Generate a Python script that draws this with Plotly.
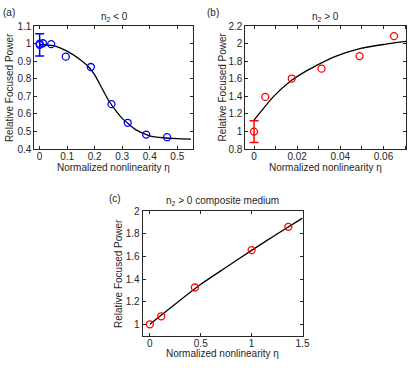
import plotly.graph_objects as go

W, H = 415, 368

# ---- panel (a): n2 < 0 ----
a_x = [0.0, 0.012, 0.042, 0.095, 0.186, 0.261, 0.320, 0.387, 0.463]
a_y = [1.0, 1.002, 0.997, 0.926, 0.867, 0.656, 0.550, 0.483, 0.468]
a_err_x = [0.0]
a_err_y = [0.993]
a_err = [0.063]
a_fit_x = [0, 0.05, 0.1, 0.15, 0.18, 0.2, 0.22, 0.25, 0.28, 0.3, 0.35, 0.4, 0.45, 0.5, 0.55]
a_fit_y = [0.995, 0.988, 0.957, 0.905, 0.864, 0.822, 0.765, 0.678, 0.612, 0.575, 0.51, 0.476, 0.465, 0.46, 0.457]

# ---- panel (b): n2 > 0 ----
b_x = [0.0052, 0.0175, 0.0313, 0.0489, 0.0649]
b_y = [1.394, 1.603, 1.715, 1.858, 2.085]
b_err_x = [0.0]
b_err_y = [1.0]
b_err = [0.123]
b_fit_x = [0, 0.0046, 0.0091, 0.0167, 0.0243, 0.0304, 0.0372, 0.0486, 0.06, 0.0706]
b_fit_y = [1.13, 1.27, 1.40, 1.57, 1.69, 1.77, 1.85, 1.94, 1.99, 2.025]

# ---- panel (c): n2 > 0 composite medium ----
c_x = [0.0, 0.112, 0.442, 1.0, 1.361]
c_y = [1.0, 1.071, 1.326, 1.657, 1.863]
c_fit_x = [0, 0.25, 0.5, 0.75, 1.0, 1.25, 1.5]
c_fit_y = [1.0, 1.18, 1.355, 1.505, 1.655, 1.80, 1.94]

BLUE = "#0000FF"
RED = "#FF0000"
INK = "#262626"
FONT = "Liberation Sans, Arial, sans-serif"
FS = 10


def px(x):
    return x / W


def py(y):
    return 1 - y / H


def fit_line(x, y, xa, ya):
    return go.Scatter(x=x, y=y, mode="lines", xaxis=xa, yaxis=ya,
                      line=dict(color="black", width=1.3, shape="spline", smoothing=0.5),
                      showlegend=False, hoverinfo="skip")


def points(x, y, color, xa, ya):
    return go.Scatter(x=x, y=y, mode="markers", xaxis=xa, yaxis=ya,
                      marker=dict(symbol="circle-open", size=7, color=color, line=dict(width=1.3)),
                      showlegend=False)


def err_point(x, y, e, color, xa, ya):
    return go.Scatter(x=x, y=y, mode="markers", xaxis=xa, yaxis=ya,
                      marker=dict(symbol="circle-open", size=7, color=color, line=dict(width=1.3)),
                      error_y=dict(type="data", array=e, visible=True, color=color,
                                   thickness=1.5, width=4.5),
                      showlegend=False)


fig = go.Figure()
fig.add_trace(fit_line(a_fit_x, a_fit_y, "x", "y"))
fig.add_trace(points(a_x, a_y, BLUE, "x", "y"))
fig.add_trace(err_point(a_err_x, a_err_y, a_err, BLUE, "x", "y"))

fig.add_trace(fit_line(b_fit_x, b_fit_y, "x2", "y2"))
fig.add_trace(points(b_x, b_y, RED, "x2", "y2"))
fig.add_trace(err_point(b_err_x, b_err_y, b_err, RED, "x2", "y2"))

fig.add_trace(fit_line(c_fit_x, c_fit_y, "x3", "y3"))
fig.add_trace(points(c_x, c_y, RED, "x3", "y3"))


def ax(domain, rng, tickvals, ticktext, anchor, standoff=0):
    return dict(domain=domain, range=rng, tickvals=tickvals, ticktext=ticktext,
                anchor=anchor, showline=True, linecolor=INK, linewidth=1, mirror="ticks",
                ticks="inside", ticklen=3, tickcolor=INK, tickwidth=0.8,
                ticklabelstandoff=standoff,
                showgrid=False, zeroline=False,
                tickfont=dict(family=FONT, size=FS, color=INK))


fig.update_layout(
    width=W, height=H,
    margin=dict(l=0, r=0, t=0, b=0),
    paper_bgcolor="white", plot_bgcolor="white",
    font=dict(family=FONT, size=FS, color=INK),
    xaxis=ax([px(35), px(196)], [-0.019, 0.556],
             [0, 0.1, 0.2, 0.3, 0.4, 0.5], ["0", "0.1", "0.2", "0.3", "0.4", "0.5"], "y", -2),
    yaxis=ax([py(148), py(20.7)], [0.4, 1.1],
             [0.4, 0.5, 0.6, 0.7, 0.8, 0.9, 1.0, 1.1],
             ["0.4", "0.5", "0.6", "0.7", "0.8", "0.9", "1", "1.1"], "x"),
    xaxis2=ax([px(249.6), px(413.3)], [-0.004, 0.0706],
              [0, 0.01, 0.02, 0.03, 0.04, 0.05, 0.06, 0.07],
              ["0", "", "0.02", "", "0.04", "", "0.06", ""], "y2", -2),
    yaxis2=ax([py(148), py(20.7)], [0.8, 2.2],
              [0.8, 1.0, 1.2, 1.4, 1.6, 1.8, 2.0, 2.2],
              ["0.8", "1", "1.2", "1.4", "1.6", "1.8", "2", "2.2"], "x2"),
    xaxis3=ax([px(145), px(307.7)], [-0.072, 1.5],
              [0, 0.5, 1.0, 1.5], ["0", "0.5", "1", "1.5"], "y3", -2),
    yaxis3=ax([py(340.7), py(212.3)], [0.9, 2.0],
              [1.0, 1.2, 1.4, 1.6, 1.8, 2.0],
              ["1", "1.2", "1.4", "1.6", "1.8", "2"], "x3"),
)


def note(text, x, y, angle=0, size=FS):
    fig.add_annotation(text=text, x=px(x), y=py(y), xref="paper", yref="paper",
                       showarrow=False, textangle=angle, xanchor="center", yanchor="middle",
                       font=dict(family=FONT, size=size, color=INK))


xlabel = "Normalized nonlinearity η"
ylabel = "Relative Focused Power"

note("(a)", 9, 7)
note("n<sub>2</sub> &lt; 0", 116, 11)
note(xlabel, 115, 167)
note(ylabel, 9, 84, angle=-90)

note("(b)", 217, 7)
note("n<sub>2</sub> &gt; 0", 331, 11)
note(xlabel, 331, 167)
note(ylabel, 226, 84, angle=-90)

note("(c)", 117, 199)
note("n<sub>2</sub> &gt; 0 composite medium", 226, 202)
note(xlabel, 226, 359)
note(ylabel, 120, 276, angle=-90)

# the page body has a default 8px margin; drop it so the figure sits at (0, 0)
fig.write_html("out.html", config={"displayModeBar": False},
               post_script="document.body.style.margin = '0';")
